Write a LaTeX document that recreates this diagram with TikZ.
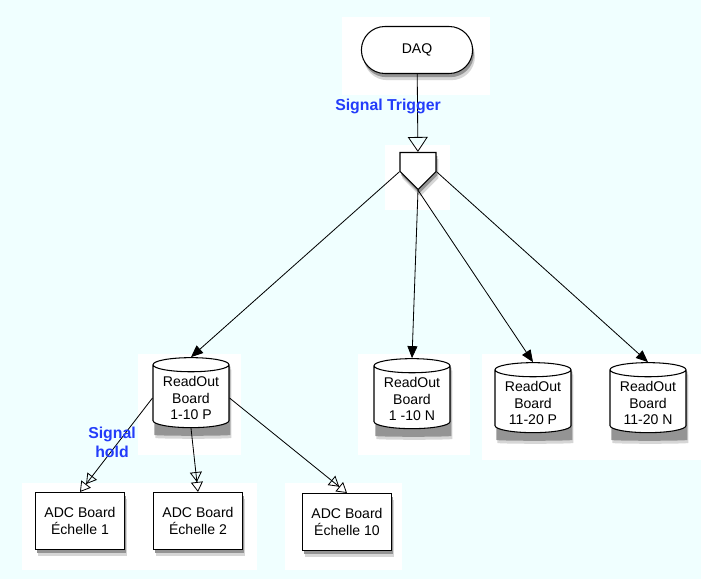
\documentclass[tikz,border=0pt]{standalone}
\usepackage{fontspec}
\setmainfont{Liberation Sans}
\usepackage{xcolor}
\usepackage{tikz}
\usetikzlibrary{arrows.meta,shapes.geometric,shapes.symbols,shapes.misc}
\definecolor{bgcyan}{RGB}{240,255,255}
\definecolor{sigblue}{RGB}{35,60,250}

\begin{document}
\begin{tikzpicture}[x=0.3mm, y=0.3mm,
  patch/.style={fill=white, draw=none},
  shdsoft/.style={fill=black!16, draw=none, xshift=0.7mm, yshift=-2mm},
  shddark/.style={fill=black!42, draw=none, xshift=0.4mm, yshift=-1.1mm},
  daqbox/.style={rounded rectangle, draw, fill=white, line width=0.9pt, minimum width=35.7mm, minimum height=14.1mm, font=\fontsize{12}{13.8}\selectfont},
  trigbox/.style={signal, signal to=south, draw, fill=white, line width=0.9pt, minimum width=10.8mm, minimum height=5.7mm, inner sep=0},
  cyl/.style={cylinder, shape border rotate=90, aspect=0.22, draw, fill=white, line width=0.9pt, minimum width=22.8mm, minimum height=21mm, align=center, font=\fontsize{12}{13.8}\selectfont},
  adc/.style={draw, fill=white, line width=0.9pt, minimum width=26.7mm, minimum height=17.1mm, align=center, font=\fontsize{12}{13.8}\selectfont},
  arr/.style={-{Triangle[length=3.6mm,width=3mm]}, line width=0.7pt},
  opn/.style={-{Triangle[open,length=4.5mm,width=6mm]}, line width=0.7pt},
  dbl/.style={-{Triangle[open,length=3mm,width=3.6mm]Triangle[open,length=3mm,width=3.6mm]}, line width=0.7pt},
  lbl/.style={text=sigblue, font=\bfseries\fontsize{13.5}{16}\selectfont, align=center}
]
\fill[bgcyan] (0,0) rectangle (701,-579);
\useasboundingbox (0,0) rectangle (701,-579);
% white patches behind the groups
\fill[patch] (342,-17) rectangle (490,-95);
\fill[patch] (385,-145) rectangle (450,-210);
\fill[patch] (138,-354) rectangle (241,-455);
\fill[patch] (358,-354) rectangle (470,-455);
\fill[patch] (482,-354) rectangle (701,-460);
\fill[patch] (22,-483) rectangle (257,-570);
\fill[patch] (285,-483) rectangle (402,-570);
% shadows
\node[daqbox, shdsoft] (daqs) at (417,-50) {};
\node[daqbox, shddark] (daqd) at (417,-50) {};
\node[trigbox, shdsoft] (trigs) at (418,-162) {};
\node[trigbox, shddark] (trigd) at (418,-162) {};
\foreach \x/\y [count=\i] in {191/-398, 412/-399, 533/-403, 648/-403} {
  \node[cyl, shdsoft] (cyls\i) at (\x,\y) {};
  \node[cyl, shddark] (cyld\i) at (\x,\y) {};
}
\foreach \x/\y [count=\i] in {80/-521, 198/-521, 347/-522} {
  \node[adc, shdsoft] (adcs\i) at (\x,\y) {};
  \node[adc, shddark] (adcd\i) at (\x,\y) {};
}
% nodes
\node[daqbox] (daq) at (417,-50) {DAQ};
\node[trigbox] (trig) at (418,-162) {};
\node[cyl] (ro1p) at (191,-398) {ReadOut\\Board\\1-10 P};
\node[cyl] (ro1n) at (412,-399) {ReadOut\\Board\\1 -10 N};
\node[cyl] (ro11p) at (533,-403) {ReadOut\\Board\\11-20 P};
\node[cyl] (ro11n) at (648,-403) {ReadOut\\Board\\11-20 N};
\node[adc] (adc1) at (80,-521) {ADC Board\\Échelle 1};
\node[adc] (adc2) at (198,-521) {ADC Board\\Échelle 2};
\node[adc] (adc10) at (347,-522) {ADC Board\\Échelle 10};
% connectors
\draw[opn] (daq) -- (trig);
\draw[arr] (trig.south west) -- (ro1p.north);
\draw[arr] (trig.south) -- (ro1n.north);
\draw[arr] (trig.south) -- (ro11p.north);
\draw[arr] (trig.south east) -- (ro11n.north);
\draw[dbl] (ro1p.west) -- (adc1.north);
\draw[dbl] (ro1p.south) -- (adc2.north);
\draw[dbl] (ro1p.east) -- (adc10.north);
% labels
\node[lbl] (trglbl) at (388,-106) {Signal Trigger};
\node[lbl] (holdlbl) at (112,-442) {Signal\\hold};
\end{tikzpicture}
\end{document}
